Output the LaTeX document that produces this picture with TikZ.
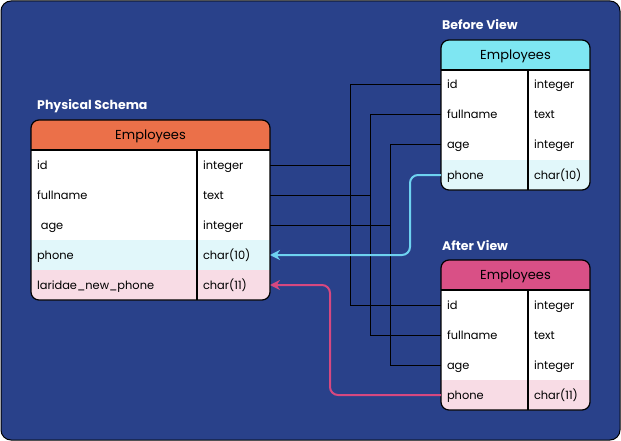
\documentclass[tikz,border=0pt]{standalone}
\usepackage{fontspec}
\setmainfont{Poppins}
\usepackage{xcolor}
\definecolor{fondo}{RGB}{41, 65, 138}
\definecolor{naranja}{RGB}{235, 112, 73}
\definecolor{celeste}{RGB}{126, 230, 242}
\definecolor{rosa}{RGB}{217, 80, 134}
\definecolor{celesteclaro}{RGB}{225, 247, 250}
\definecolor{rosaclaro}{RGB}{248, 220, 229}
\definecolor{celestelinea}{RGB}{110, 210, 240}
\definecolor{rosalinea}{RGB}{214, 72, 128}
\usepackage{tikz}
\usetikzlibrary{positioning, arrows.meta, backgrounds}

\begin{document}
\begin{tikzpicture}[x=1pt, y=-1pt,
  hdr/.style={rectangle, minimum height=30pt, inner sep=0pt, outer sep=0pt, text height=11pt, text depth=2pt, font=\fontsize{13}{15}\selectfont},
  fld/.style={rectangle, minimum height=30pt, text width=#1, inner xsep=6pt, inner ysep=0pt, outer sep=0pt, align=left, text height=10pt, text depth=2pt, font=\fontsize{11.4}{13}\selectfont},
  ttl/.style={anchor=base west, inner sep=0pt, text=white, font=\bfseries\fontsize{12.5}{14}\selectfont},
  tblframe/.style={draw=black, line width=1.2pt, rounded corners=8pt},
  link/.style={draw=black, line width=1pt},
  flow/.style={line width=2pt, rounded corners=8pt, -{Stealth[length=10pt, width=10pt]}}
]
  \useasboundingbox (0,0) rectangle (621,441);
  \begin{scope}[on background layer]
    \fill[fondo, draw=black, line width=1pt, rounded corners=10pt] (1,1) rectangle (620,440);
  \end{scope}

  % physical schema
  \node[hdr, minimum width=239pt] (physhead) at (150.5,135) {Employees};
  \node[fld=154pt, fill=white, below right=0pt of physhead.south west] (phid) {id};
  \node[fld=61pt, fill=white, right=0pt of phid] (phidt) {integer};
  \node[fld=154pt, fill=white, below=0pt of phid] (phfull) {fullname};
  \node[fld=61pt, fill=white, right=0pt of phfull] (phfullt) {text};
  \node[fld=154pt, fill=white, below=0pt of phfull] (phage) {\ age};
  \node[fld=61pt, fill=white, right=0pt of phage] (phaget) {integer};
  \node[fld=154pt, fill=celesteclaro, below=0pt of phage] (phphone) {phone};
  \node[fld=61pt, fill=celesteclaro, right=0pt of phphone] (phphonet) {char(10)};
  \node[fld=154pt, below=0pt of phphone] (phnew) {laridae\_new\_phone};
  \node[fld=61pt, right=0pt of phnew] (phnewt) {char(11)};
  \node[ttl] (phystitle) at ([xshift=6pt, yshift=10pt]physhead.north west) {Physical Schema};

  % before view
  \node[hdr, minimum width=149pt] (bvhead) at (515.5,55) {Employees};
  \node[fld=75pt, fill=white, below right=0pt of bvhead.south west] (bvid) {id};
  \node[fld=50pt, fill=white, right=0pt of bvid] (bvidt) {integer};
  \node[fld=75pt, fill=white, below=0pt of bvid] (bvfull) {fullname};
  \node[fld=50pt, fill=white, right=0pt of bvfull] (bvfullt) {text};
  \node[fld=75pt, fill=white, below=0pt of bvfull] (bvage) {age};
  \node[fld=50pt, fill=white, right=0pt of bvage] (bvaget) {integer};
  \node[fld=75pt, below=0pt of bvage] (bvphone) {phone};
  \node[fld=50pt, right=0pt of bvphone] (bvphonet) {char(10)};
  \node[ttl] (bvtitle) at ([xshift=1pt, yshift=10pt]bvhead.north west) {Before View};

  % after view
  \node[hdr, minimum width=149pt] (avhead) at (515.5,275) {Employees};
  \node[fld=75pt, fill=white, below right=0pt of avhead.south west] (avid) {id};
  \node[fld=50pt, fill=white, right=0pt of avid] (avidt) {integer};
  \node[fld=75pt, fill=white, below=0pt of avid] (avfull) {fullname};
  \node[fld=50pt, fill=white, right=0pt of avfull] (avfullt) {text};
  \node[fld=75pt, fill=white, below=0pt of avfull] (avage) {age};
  \node[fld=50pt, fill=white, right=0pt of avage] (avaget) {integer};
  \node[fld=75pt, below=0pt of avage] (avphone) {phone};
  \node[fld=50pt, right=0pt of avphone] (avphonet) {char(11)};
  \node[ttl] (avtitle) at ([xshift=1pt, yshift=10pt]avhead.north west) {After View};

  \begin{scope}[on background layer]
    \fill[naranja, rounded corners=8pt] (physhead.south west) |- (physhead.north east) -- (physhead.south east);
    \fill[rosaclaro, rounded corners=8pt] (phnew.north west) -- (phnew.south west) -- (phnewt.south east) -- (phnewt.north east);
    \fill[celeste, rounded corners=8pt] (bvhead.south west) |- (bvhead.north east) -- (bvhead.south east);
    \fill[celesteclaro, rounded corners=8pt] (bvphone.north west) -- (bvphone.south west) -- (bvphonet.south east) -- (bvphonet.north east);
    \fill[rosa, rounded corners=8pt] (avhead.south west) |- (avhead.north east) -- (avhead.south east);
    \fill[rosaclaro, rounded corners=8pt] (avphone.north west) -- (avphone.south west) -- (avphonet.south east) -- (avphonet.north east);
  \end{scope}

  \draw[tblframe] (physhead.north west) rectangle (phnewt.south east);
  \draw[line width=1.2pt] (physhead.south west) -- (physhead.south east);
  \draw[line width=1.2pt] (phidt.north west) -- (phnewt.south west);
  \draw[tblframe] (bvhead.north west) rectangle (bvphonet.south east);
  \draw[line width=1.2pt] (bvhead.south west) -- (bvhead.south east);
  \draw[line width=1.2pt] (bvidt.north west) -- (bvphonet.south west);
  \draw[tblframe] (avhead.north west) rectangle (avphonet.south east);
  \draw[line width=1.2pt] (avhead.south west) -- (avhead.south east);
  \draw[line width=1.2pt] (avidt.north west) -- (avphonet.south west);

  \draw[link] (bvid.west) -- ++(-91,0) |- (phidt.east);
  \draw[link] (avid.west) -- ++(-91,0) |- (phidt.east);
  \draw[link] (bvfull.west) -- ++(-71,0) |- (phfullt.east);
  \draw[link] (avfull.west) -- ++(-71,0) |- (phfullt.east);
  \draw[link] (bvage.west) -- ++(-51,0) |- (phaget.east);
  \draw[link] (avage.west) -- ++(-51,0) |- (phaget.east);
  \draw[flow, celestelinea] (bvphone.west) -- ++(-31,0) |- (phphonet.east);
  \draw[flow, rosalinea] (avphone.west) -- ++(-111,0) |- (phnewt.east);
\end{tikzpicture}
\end{document}
